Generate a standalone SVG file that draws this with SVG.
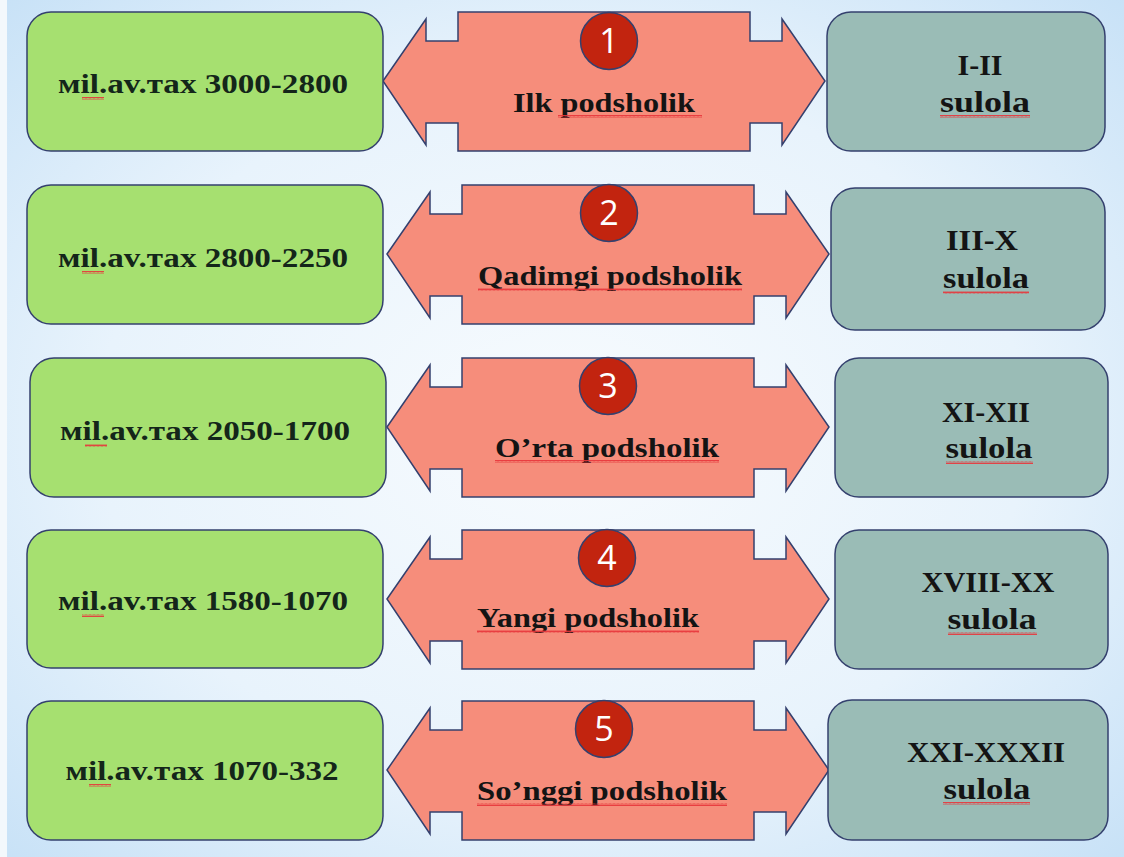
<svg xmlns="http://www.w3.org/2000/svg" width="1124" height="857" viewBox="0 0 1124 857">
<defs>
<radialGradient id="bg" cx="0.5" cy="0.5" r="0.75">
<stop offset="0" stop-color="#f7fbfe"/>
<stop offset="0.55" stop-color="#e8f3fc"/>
<stop offset="1" stop-color="#c3dff6"/>
</radialGradient>
<pattern id="sq" x="0" y="0" width="4" height="3" patternUnits="userSpaceOnUse">
<path d="M0,2.5 L1,0.5 L2,2.5 L3,0.5 L4,2.5" fill="none" stroke="#e8363a" stroke-width="0.9"/>
</pattern>
<path id="arrow" d="M0,69 L43,7 L43,29 L75,29 L75,0 L367,0 L367,29 L399,29 L399,7 L442,69 L399,133 L399,111 L367,111 L367,139 L75,139 L75,111 L43,111 L43,133 Z"/>
</defs>
<style>
.green{fill:#a6e070;stroke:#34406e;stroke-width:1.5}
.teal{fill:#9abcb6;stroke:#34406e;stroke-width:1.5}
.arr{fill:#f68d7b;stroke:#34406e;stroke-width:1.5}
.num{fill:#c2240f;stroke:#34406e;stroke-width:1.5}
.t{font-family:"Liberation Serif","Times New Roman",serif;font-weight:bold;fill:#141414;text-anchor:middle}
.g{font-size:28px;fill:#14261a}
.a{font-size:28px}
.r{font-size:30px}
.n{font-family:"Open Sans","Liberation Sans",sans-serif;font-size:34px;fill:#ffffff;text-anchor:middle}
.sq{fill:url(#sq)}
</style>
<rect x="0" y="0" width="1124" height="857" fill="url(#bg)"/>
<rect x="0" y="0" width="7" height="857" fill="#f3f8fc"/>

<g id="connectors">
<use href="#arrow" class="arr" transform="translate(383,12)"/>
<use href="#arrow" class="arr" transform="translate(387,185)"/>
<use href="#arrow" class="arr" transform="translate(387,358)"/>
<use href="#arrow" class="arr" transform="translate(387,530)"/>
<use href="#arrow" class="arr" transform="translate(387,701)"/>
</g>

<g id="row1">
<g id="date1"><rect class="green" x="27" y="12" width="356" height="139" rx="24"/>
<text class="t g" x="203" y="93" textLength="290" lengthAdjust="spacingAndGlyphs">мil.av.тах 3000-2800</text>
<rect class="sq" x="82" y="97" width="22" height="3"/></g>
<g id="king1"><circle class="num" cx="609" cy="41" r="28.5"/><text class="n" x="609" y="53">1</text>
<text class="t a" x="604" y="112" textLength="182" lengthAdjust="spacingAndGlyphs">Ilk podsholik</text>
<rect class="sq" x="558" y="115" width="144" height="3"/></g>
<g id="dyn1"><rect class="teal" x="827" y="12" width="278" height="139" rx="24"/>
<text class="t r" x="980" y="75">I-II</text>
<text class="t r" x="985" y="112" textLength="90" lengthAdjust="spacingAndGlyphs">sulola</text>
<rect class="sq" x="940" y="115" width="90" height="3"/></g>
</g>

<g id="row2">
<g id="date2"><rect class="green" x="27" y="185" width="356" height="139" rx="24"/>
<text class="t g" x="203" y="267" textLength="290" lengthAdjust="spacingAndGlyphs">мil.av.тах 2800-2250</text>
<rect class="sq" x="82" y="271" width="22" height="3"/></g>
<g id="king2"><circle class="num" cx="609" cy="213" r="28.5"/><text class="n" x="609" y="225">2</text>
<text class="t a" x="610" y="285" textLength="264" lengthAdjust="spacingAndGlyphs">Qadimgi podsholik</text>
<rect class="sq" x="478" y="288" width="264" height="3"/></g>
<g id="dyn2"><rect class="teal" x="831" y="188" width="274" height="142" rx="24"/>
<text class="t r" x="982" y="250" textLength="72" lengthAdjust="spacingAndGlyphs">III-X</text>
<text class="t r" x="986" y="288" textLength="86" lengthAdjust="spacingAndGlyphs">sulola</text>
<rect class="sq" x="943" y="291" width="86" height="3"/></g>
</g>

<g id="row3">
<g id="date3"><rect class="green" x="30" y="358" width="356" height="139" rx="24"/>
<text class="t g" x="205" y="440" textLength="290" lengthAdjust="spacingAndGlyphs">мil.av.тах 2050-1700</text>
<rect class="sq" x="85" y="444" width="22" height="3"/></g>
<g id="king3"><circle class="num" cx="608" cy="386" r="28.5"/><text class="n" x="608" y="398">3</text>
<text class="t a" x="607" y="457" textLength="224" lengthAdjust="spacingAndGlyphs">O’rta podsholik</text>
<rect class="sq" x="495" y="460" width="224" height="3"/></g>
<g id="dyn3"><rect class="teal" x="835" y="358" width="273" height="139" rx="24"/>
<text class="t r" x="986" y="422" textLength="88" lengthAdjust="spacingAndGlyphs">XI-XII</text>
<text class="t r" x="989" y="458" textLength="87" lengthAdjust="spacingAndGlyphs">sulola</text>
<rect class="sq" x="946" y="461" width="87" height="3"/></g>
</g>

<g id="row4">
<g id="date4"><rect class="green" x="27" y="530" width="356" height="138" rx="24"/>
<text class="t g" x="203" y="610" textLength="290" lengthAdjust="spacingAndGlyphs">мil.av.тах 1580-1070</text>
<rect class="sq" x="82" y="614" width="22" height="3"/></g>
<g id="king4"><circle class="num" cx="607" cy="558" r="28.5"/><text class="n" x="607" y="570">4</text>
<text class="t a" x="588" y="627" textLength="222" lengthAdjust="spacingAndGlyphs">Yangi podsholik</text>
<rect class="sq" x="477" y="630" width="222" height="3"/></g>
<g id="dyn4"><rect class="teal" x="835" y="530" width="273" height="139" rx="24"/>
<text class="t r" x="988" y="592" textLength="133" lengthAdjust="spacingAndGlyphs">XVIII-XX</text>
<text class="t r" x="992" y="629" textLength="89" lengthAdjust="spacingAndGlyphs">sulola</text>
<rect class="sq" x="948" y="632" width="89" height="3"/></g>
</g>

<g id="row5">
<g id="date5"><rect class="green" x="27" y="701" width="356" height="139" rx="24"/>
<text class="t g" x="202" y="780" textLength="273" lengthAdjust="spacingAndGlyphs">мil.av.тах 1070-332</text>
<rect class="sq" x="89" y="784" width="22" height="3"/></g>
<g id="king5"><circle class="num" cx="604" cy="729" r="28.5"/><text class="n" x="604" y="741">5</text>
<text class="t a" x="602" y="800" textLength="250" lengthAdjust="spacingAndGlyphs">So’nggi podsholik</text>
<rect class="sq" x="477" y="803" width="250" height="3"/></g>
<g id="dyn5"><rect class="teal" x="828" y="700" width="280" height="140" rx="24"/>
<text class="t r" x="986" y="762" textLength="158" lengthAdjust="spacingAndGlyphs">XXI-XXXII</text>
<text class="t r" x="987" y="799" textLength="87" lengthAdjust="spacingAndGlyphs">sulola</text>
<rect class="sq" x="943" y="802" width="87" height="3"/></g>
</g>
</svg>
